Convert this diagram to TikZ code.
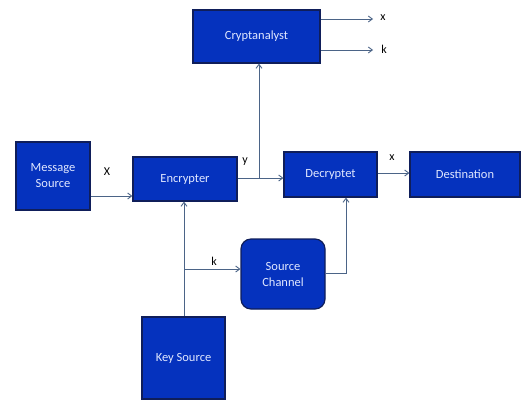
\documentclass[tikz,border=0pt]{standalone}
\usepackage{fontspec}
\setmainfont{Carlito}
\usetikzlibrary{arrows.meta,calc}
\definecolor{boxfill}{RGB}{5,50,190}
\definecolor{boxline}{RGB}{15,30,90}
\definecolor{wire}{RGB}{75,100,135}
\definecolor{boxtext}{RGB}{225,232,255}
\tikzset{
  box/.style={draw=boxline, line width=1.2pt, fill=boxfill, text=boxtext, font=\fontsize{12.5}{16}\selectfont, align=center, inner sep=0pt},
  arr/.style={draw=wire, line width=0.9pt, -{Straight Barb[length=4pt,width=6pt]}},
  wireline/.style={draw=wire, line width=0.9pt},
  lbl/.style={font=\fontsize{12}{14}\selectfont, text=black, inner sep=0pt}
}
\begin{document}
\begin{tikzpicture}[x=1pt,y=-1pt]
\useasboundingbox (0,0) rectangle (526,400);
\fill[white] (0,0) rectangle (526,400);
\node[box, minimum width=127pt, minimum height=53pt] (crypt) at (256.5,36.5) {Cryptanalyst};
\node[box, minimum width=74pt, minimum height=68pt] (msg) at (53,176) {Message\\Source};
\node[box, minimum width=104pt, minimum height=44pt] (enc) at (185,179) {Encrypter};
\node[box, minimum width=93pt, minimum height=45pt] (dec) at (330.5,174.5) {Decryptet};
\node[box, minimum width=110pt, minimum height=45pt] (dest) at (465,174.5) {Destination};
\node[box, minimum width=84pt, minimum height=70pt, rounded corners=10pt] (chan) at (283,274) {Source\\Channel};
\node[box, minimum width=83pt, minimum height=82pt] (key) at (183.5,358) {Key Source};

\coordinate (ox) at (373,19);
\coordinate (ok) at (373,50);
\coordinate (jy) at (259,178);
\coordinate (jk) at (184,269);
\coordinate (dc) at (346,273);

\draw[arr] (msg.east |- 0,196) -- (enc.west |- 0,196);
\draw[arr] (enc.east |- 0,178) -- (dec.west |- 0,178);
\draw[arr] (jy) -- (jy |- crypt.south);
\draw[arr] (crypt.east |- ox) -- (ox);
\draw[arr] (crypt.east |- ok) -- (ok);
\draw[arr] (dec.east |- 0,173) -- (dest.west |- 0,173);
\draw[arr] (chan.east |- dc) -- (dc) -- (dc |- dec.south);
\draw[arr] (key.north -| jk) -- (jk |- enc.south);
\draw[arr] (jk) -- (jk -| chan.west);

\node[lbl] (lx1) at (107,172) {X};
\node[lbl] (ly) at (245,162) {y};
\node[lbl] (lx2) at (383,18) {x};
\node[lbl] (lk1) at (384,49) {k};
\node[lbl] (lx3) at (392,158) {x};
\node[lbl] (lk2) at (214,261) {k};
\end{tikzpicture}
\end{document}
